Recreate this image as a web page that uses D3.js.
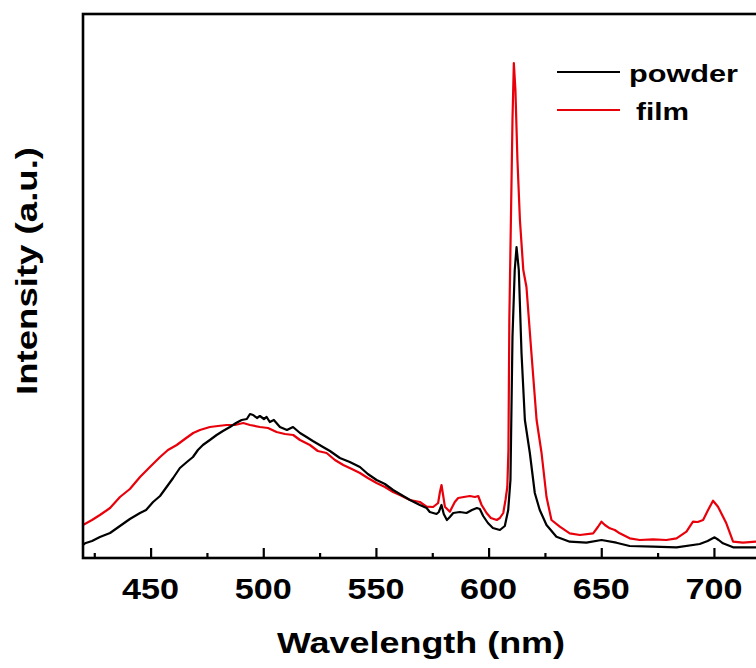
<!DOCTYPE html>
<html>
<head>
<meta charset="utf-8">
<script src="https://cdn.jsdelivr.net/npm/d3@7"></script>
<style>
  body { margin: 0; background: #fff; }
  text { font-family: "Liberation Sans", Arial, sans-serif; font-weight: bold; fill: #000; }
</style>
</head>
<body>
<div id="chart"></div>
<script>
'use strict';

// values (wavelength in nm, intensity in a.u.)
const powderNm = [420.0, 420.9, 424.0, 427.5, 432.0, 436.4, 440.8, 445.3, 448.0, 451.1, 454.2, 457.1, 460.0, 463.0, 466.1, 468.8,
    471.0, 473.2, 476.3, 479.3, 482.1, 485.2, 487.9, 490.4, 492.7, 494.1, 495.5, 497.2, 498.5, 500.3, 501.5, 502.9, 504.7,
    507.4, 510.5, 513.2, 516.3, 519.2, 522.0, 526.5, 529.6, 534.0, 538.4, 542.9, 546.4, 550.3, 554.0, 557.6, 560.6, 565.1,
    569.5, 572.5, 573.9, 576.9, 577.9, 579.1, 580.1, 581.5, 582.8, 584.3, 587.2, 590.2, 592.6, 594.8, 596.1, 597.6, 599.7,
    601.9, 605.0, 607.2, 608.7, 609.7, 610.6, 611.6, 612.4, 613.4, 614.6, 616.1, 618.3, 620.5, 622.7, 625.7, 630.1, 636.0,
    643.4, 650.1, 656.7, 662.6, 673.0, 683.4, 693.7, 697.2, 700.3, 702.1, 704.0, 708.5, 718.5, 720.3];
const powderInt = [130, 147, 170, 210, 250, 320, 390, 450, 480, 560, 620, 710, 800, 900, 960, 1010,
    1080, 1130, 1180, 1230, 1270, 1310, 1350, 1380, 1390, 1440, 1430, 1400, 1420, 1390, 1410, 1360, 1380,
    1310, 1280, 1310, 1250, 1210, 1170, 1110, 1070, 1000, 960, 910, 840, 780, 740, 680, 640, 580,
    530, 500, 460, 440, 460, 530, 440, 380, 410, 450, 460, 450, 480, 500, 490, 420, 350,
    300, 280, 320, 480, 780, 2210, 2880, 3110, 2880, 2050, 1380, 1050, 650, 480, 330, 213, 163,
    153, 180, 153, 120, 113, 107, 140, 170, 207, 180, 147, 107, 107, 110];

const filmNm = [420.0, 424.0, 427.5, 432.0, 436.4, 440.8, 445.3, 449.7, 454.2, 457.7, 461.6, 465.2, 468.9, 471.9, 476.3, 479.9,
    483.7, 487.4, 491.1, 494.1, 498.5, 502.1, 505.9, 509.6, 513.3, 516.3, 520.7, 524.2, 528.1, 531.8, 535.5, 539.3, 542.9,
    546.4, 550.3, 554.0, 557.6, 560.6, 565.1, 569.5, 572.5, 575.4, 577.6, 578.4, 579.1, 579.8, 580.6, 582.8, 585.0, 586.5,
    589.0, 591.7, 593.9, 595.4, 596.9, 599.1, 601.0, 603.6, 605.0, 606.5, 607.5, 608.3, 608.8, 609.2, 609.9, 610.6, 611.2,
    611.9, 612.8, 613.9, 615.4, 616.8, 619.0, 621.3, 623.5, 625.7, 627.9, 631.6, 636.0, 640.5, 646.4, 648.5, 650.1, 651.6,
    653.8, 656.0, 658.2, 662.6, 667.1, 673.0, 678.9, 683.4, 687.8, 690.7, 692.8, 695.2, 697.4, 699.6, 701.8, 705.5, 708.5,
    712.9, 718.5, 720.3];
const filmInt = [330, 380, 430, 500, 610, 690, 810, 910, 1010, 1080, 1130, 1190, 1250, 1280, 1310, 1320,
    1330, 1330, 1350, 1330, 1310, 1300, 1260, 1240, 1230, 1180, 1130, 1070, 1050, 980, 930, 890, 850,
    800, 750, 710, 660, 630, 580, 560, 513, 510, 550, 660, 730, 630, 513, 463, 560, 600,
    610, 620, 610, 620, 530, 450, 400, 380, 400, 450, 580, 710, 1080, 2380, 3380, 4380, 4950,
    4680, 3980, 3380, 2880, 2710, 2050, 1380, 1050, 610, 380, 313, 247, 230, 247, 310, 363, 330,
    297, 280, 247, 197, 180, 187, 180, 197, 263, 363, 360, 380, 480, 573, 513, 347, 163,
    153, 163, 160];

const xTicks = [450, 500, 550, 600, 650, 700];
const xMinorTicks = [425, 475, 525, 575, 625, 675, 725];
const seriesNames = ["powder", "film"];
const seriesColors = ["#000000", "#e8000b"];

const width = 756;
const height = 668;
const plot = { left: 83, right: 759, top: 14, bottom: 558 };

const svg = d3.select("#chart")
    .append("svg")
    .attr("width", width)
    .attr("height", height);

const x = d3.scaleLinear().domain([420, 720]).range([plot.left, plot.right]);
const y = d3.scaleLinear().domain([0, 5440]).range([plot.bottom, plot.top]);

svg.append("clipPath").attr("id", "clip")
    .append("rect")
    .attr("x", plot.left).attr("y", plot.top)
    .attr("width", plot.right - plot.left).attr("height", plot.bottom - plot.top);

const line = d3.line()
    .x(d => x(d[0]))
    .y(d => y(d[1]));

const powder = powderNm.map((v, i) => [v, powderInt[i]]);
const film = filmNm.map((v, i) => [v, filmInt[i]]);

const curves = svg.append("g").attr("clip-path", "url(#clip)");
curves.append("path")
    .attr("fill", "none")
    .attr("stroke", seriesColors[1])
    .attr("stroke-width", 2.2)
    .attr("stroke-linejoin", "round")
    .attr("d", line(film));
curves.append("path")
    .attr("fill", "none")
    .attr("stroke", seriesColors[0])
    .attr("stroke-width", 2.2)
    .attr("stroke-linejoin", "round")
    .attr("d", line(powder));

// frame
svg.append("rect")
    .attr("x", plot.left).attr("y", plot.top)
    .attr("width", plot.right - plot.left).attr("height", plot.bottom - plot.top)
    .attr("fill", "none")
    .attr("stroke", "#000")
    .attr("stroke-width", 2.6);

// bottom axis, ticks pointing inward
const xAxis = svg.append("g")
    .attr("transform", `translate(0,${plot.bottom})`)
    .call(d3.axisBottom(x).tickValues(xTicks).tickSize(-10).tickFormat(""));
xAxis.select(".domain").remove();
xAxis.selectAll("line").attr("stroke-width", 2.2);

const xMinor = svg.append("g")
    .attr("transform", `translate(0,${plot.bottom})`)
    .call(d3.axisBottom(x).tickValues(xMinorTicks).tickSize(-5).tickFormat(""));
xMinor.select(".domain").remove();
xMinor.selectAll("line").attr("stroke-width", 2.2);

svg.append("g").selectAll("text")
    .data(xTicks)
    .join("text")
    .attr("x", d => x(d))
    .attr("y", 599)
    .attr("text-anchor", "middle")
    .attr("font-size", 30)
    .attr("textLength", 57)
    .attr("lengthAdjust", "spacingAndGlyphs")
    .text(d => d);

svg.append("text")
    .attr("x", (plot.left + plot.right) / 2)
    .attr("y", 653)
    .attr("text-anchor", "middle")
    .attr("font-size", 30)
    .attr("textLength", 288)
    .attr("lengthAdjust", "spacingAndGlyphs")
    .text("Wavelength (nm)");

svg.append("text")
    .attr("transform", "translate(37,271) rotate(-90)")
    .attr("text-anchor", "middle")
    .attr("font-size", 30)
    .attr("textLength", 248)
    .attr("lengthAdjust", "spacingAndGlyphs")
    .text("Intensity (a.u.)");

// legend
const legend = svg.append("g");
const legendY = [72, 110];
const legendTextX = [629, 636];
const legendTextLen = [109, 53];
seriesNames.forEach((name, i) => {
    legend.append("line")
        .attr("x1", 557).attr("x2", 620)
        .attr("y1", legendY[i]).attr("y2", legendY[i])
        .attr("stroke", seriesColors[i])
        .attr("stroke-width", 2.2);
    legend.append("text")
        .attr("x", legendTextX[i])
        .attr("y", legendY[i] + 10)
        .attr("font-size", 24)
        .attr("textLength", legendTextLen[i])
        .attr("lengthAdjust", "spacingAndGlyphs")
        .text(name);
});
</script>
</body>
</html>
